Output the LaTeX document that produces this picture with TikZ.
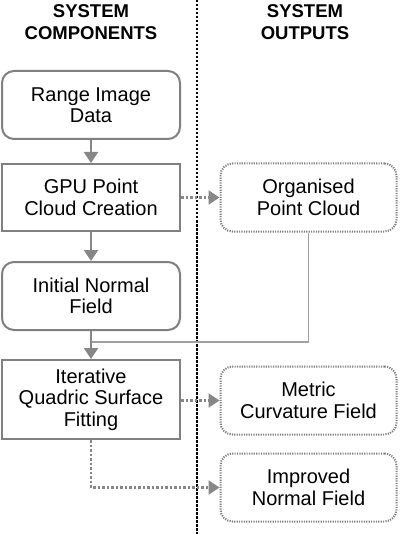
\documentclass[tikz,border=0pt]{standalone}
\usepackage{fontspec}
\setmainfont{Liberation Sans}
\usetikzlibrary{arrows.meta}
\definecolor{boxgray}{HTML}{808080}
\definecolor{arrgray}{HTML}{878787}
\definecolor{lightgray2}{HTML}{A0A0A0}
\begin{document}
\begin{tikzpicture}[x=1pt,y=-1pt,
  every node/.style={font=\fontsize{20}{21.5}\selectfont, align=center, text=black, inner sep=0pt},
  compbox/.style={draw=boxgray, line width=2pt, minimum width=178pt},
  roundbox/.style={compbox, rounded corners=12pt},
  outbox/.style={draw=boxgray, line width=2pt, dash pattern=on 1.2pt off 1.2pt, rounded corners=12pt, minimum width=176pt, minimum height=68pt},
  header/.style={font=\fontsize{18.5}{21.5}\selectfont\bfseries},
  flow/.style={draw=arrgray, line width=2.4pt, -{Triangle[length=11pt,width=14pt]}},
  outflow/.style={draw=arrgray, line width=2.4pt, dash pattern=on 2.5pt off 2pt, -{Triangle[length=11pt,width=14pt]}},
  joinline/.style={draw=lightgray2, line width=1.8pt},
  divider/.style={draw=black, line width=1.3pt, dash pattern=on 2.5pt off 1.5pt}
]
\useasboundingbox (0,0) rectangle (400,534);
\node[header] (h1) at (91,22) {SYSTEM\\COMPONENTS};
\node[header] (h2) at (305,22) {SYSTEM\\OUTPUTS};
\coordinate (dtop) at (197,0);
\coordinate (dbot) at (197,534);
\draw[divider] (dtop) -- (dbot);

\node[roundbox, minimum height=68pt] (b1) at (91,105) {Range Image\\Data};
\node[compbox, minimum height=67pt] (b2) at (91,197.5) {GPU Point\\Cloud Creation};
\node[roundbox, minimum height=68pt] (b3) at (91,296) {Initial Normal\\Field};
\node[compbox, minimum height=79pt] (b4) at (91,399.5) {Iterative\\Quadric Surface\\Fitting};

\node[outbox] (o1) at (308.5,197.5) {Organised\\Point Cloud};
\node[outbox] (o2) at (308.5,400.5) {Metric\\Curvature Field};
\node[outbox] (o3) at (308.5,487.5) {Improved\\Normal Field};

\coordinate (j) at (91,342);

\draw[flow] (b1) -- (b2);
\draw[flow] (b2) -- (b3);
\draw[joinline] (o1.south) |- (j);
\draw[flow] (b3) -- (b4);
\draw[outflow] (b2.east) -- (o1.west);
\draw[outflow] (b4.east |- o2.west) -- (o2.west);
\draw[outflow] (b4.south) |- (o3.west);
\end{tikzpicture}
\end{document}
